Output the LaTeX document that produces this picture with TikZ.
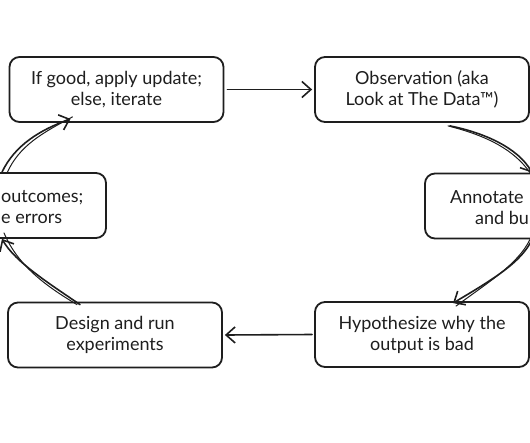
\documentclass[tikz,border=0pt]{standalone}
\usepackage{fontspec}
\setmainfont{Lato}
\usetikzlibrary{arrows.meta}
\definecolor{ink}{HTML}{1E1E1E}
\tikzset{
  box/.style={draw=ink, line width=1.8pt, rounded corners=10pt, minimum width=214pt, minimum height=65pt, align=center, inner sep=0pt, text=ink, font=\fontsize{18}{21}\selectfont},
  lbl/.style={text=ink, inner sep=0pt, font=\fontsize{18}{21}\selectfont},
  conn/.style={draw=ink, line width=1.6pt, line cap=round, -{Straight Barb[length=9pt,width=16pt,line width=1.6pt]}},
  ghost/.style={draw=ink, line width=1pt, line cap=round}
}
\begin{document}
\begin{tikzpicture}[x=1pt,y=-1pt]
\useasboundingbox (0,0) rectangle (530,442);
\fill[white] (0,0) rectangle (530,442);
\clip (0,0) rectangle (530,442);
\node[box] (A) at (116.5,89.5) {If good, apply update;\\else, iterate};
\node[box] (B) at (422,89.5) {Observation (aka\\Look at The Data™)};
\node[box] (C) at (532,206) {};
\node[box] (D) at (-1,205.5) {};
\node[box] (E) at (115,335) {Design and run\\experiments};
\node[box] (F) at (422,334.5) {Hypothesize why the\\output is bad};
\node[lbl, anchor=base west] (Ct1) at (450,203) {Annotate};
\node[lbl, anchor=base west] (Ct2) at (475,224) {and bu};
\node[lbl, anchor=base west] (Dt1) at (1,202) {outcomes;};
\node[lbl, anchor=base west] (Dt2) at (1,223) {e errors};
% straight connectors
\draw[conn] ([xshift=3pt]A.east) -- ([xshift=-2pt]B.west);
\draw[conn] ([xshift=-2pt]F.west) -- ([xshift=2pt]E.east);
% B -> C
\coordinate (bc) at ([xshift=28pt,yshift=-3pt]B.south);
\draw[conn] (bc) .. controls (485,133) and (518,148) .. (C.north);
\draw[ghost] ([xshift=-2pt]bc) .. controls (488,136) and (514,150) .. ([xshift=-2pt]C.north);
% C -> F
\coordinate (cf) at ([xshift=31pt,yshift=-2pt]F.north);
\draw[conn] (C.south) .. controls (522,262) and (492,280) .. (cf);
\draw[ghost] ([xshift=-2pt]C.south) .. controls (518,264) and (490,281) .. ([xshift=3pt,yshift=-3pt]cf);
% E -> D
\coordinate (ed) at ([xshift=-35pt,yshift=-3pt]E.north);
\draw[conn] (ed) .. controls (50,284) and (15,262) .. ([xshift=3pt]D.south);
\draw[ghost] ([xshift=-3pt]ed) .. controls (46,286) and (18,266) .. ([xshift=5pt,yshift=6pt]D.south);
% D -> A
\coordinate (da) at ([xshift=3pt]D.north);
\draw[conn] (da) .. controls (15,145) and (40,130) .. ([xshift=-46pt,yshift=4pt]A.south);
\draw[ghost] ([xshift=5pt,yshift=-1pt]da) .. controls (19,146) and (42,133) .. ([xshift=-44pt,yshift=6pt]A.south);
\end{tikzpicture}
\end{document}
